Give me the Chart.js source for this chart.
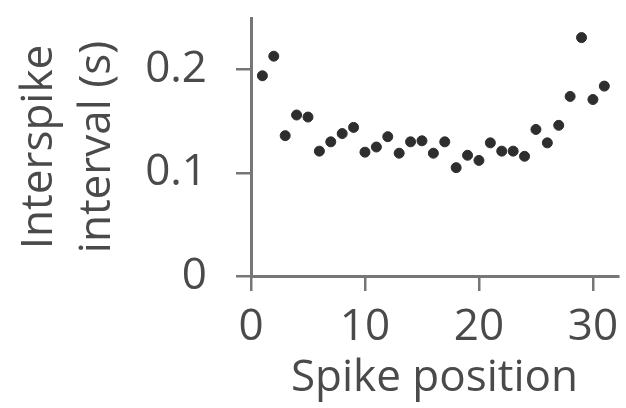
<!DOCTYPE html>
<html>
<head>
<meta charset="utf-8">
<script src="https://cdn.jsdelivr.net/npm/chart.js@4.4.1/dist/chart.umd.min.js"></script>
<style>
  html, body { margin: 0; padding: 0; background: #fff; }
  #wrap { width: 626px; height: 408px; }
  #isiChart { filter: blur(0.7px); }
</style>
</head>
<body>
<div id="wrap"><canvas id="isiChart" width="626" height="408"></canvas></div>
<script>
/* --------------- Data: interspike interval per spike --------------- */
var spikePos = [1, 2, 3, 4, 5, 6, 7, 8, 9, 10, 11, 12, 13, 14, 15, 16,
  17, 18, 19, 20, 21, 22, 23, 24, 25, 26, 27, 28, 29, 30, 31];
var isiValues = [0.194, 0.213, 0.136, 0.156, 0.154, 0.121, 0.130, 0.138,
  0.144, 0.120, 0.125, 0.135, 0.119, 0.130, 0.131, 0.119, 0.130, 0.105,
  0.117, 0.112, 0.129, 0.121, 0.121, 0.116, 0.142, 0.129, 0.146, 0.174,
  0.231, 0.171, 0.184];

/* --------------- Ticks --------------- */
var xTicks = [0, 10, 20, 30];
var yTicks = [0, 0.05, 0.1, 0.15, 0.2, 0.25];
var yTickLabels = [0, 0.1, 0.2];

var axisGrey = "#767676";
var textGrey = "#4a4a4a";
var fontFam = "'Open Sans', 'Noto Sans', sans-serif";

var points = [];
for (let i = 0; i < spikePos.length; i++) {
  points.push({ x: spikePos[i], y: isiValues[i] });
}

let isiChart = new Chart(document.getElementById("isiChart"), {
  type: "scatter",
  data: {
    datasets: [
      {
        data: points,
        backgroundColor: "#2e2e2e",
        borderColor: "#2e2e2e",
        pointRadius: 5,
        pointHoverRadius: 5,
      },
    ],
  },
  options: {
    responsive: false,
    animation: false,
    layout: { padding: { top: 18, right: 8, left: 0, bottom: 0 } },
    plugins: {
      legend: { display: false },
      tooltip: { enabled: false },
    },
    scales: {
      x: {
        type: "linear",
        min: 0,
        max: 32.2,
        afterFit: (scale) => {
          scale.height = 132;
          scale.paddingLeft = 0;
          scale.paddingRight = 0;
        },
        afterBuildTicks: (scale) => {
          scale.ticks = xTicks.map((v) => ({ value: v }));
        },
        border: { display: true, color: axisGrey, width: 3 },
        grid: {
          drawOnChartArea: false,
          drawTicks: true,
          tickLength: 15,
          tickColor: axisGrey,
          lineWidth: 2.5,
        },
        ticks: {
          padding: 10,
          color: textGrey,
          font: { family: fontFam, size: 44 },
          callback: (v) => String(v),
        },
        title: {
          display: true,
          text: "Spike position",
          color: textGrey,
          font: { family: fontFam, size: 44, lineHeight: 1.2 },
          padding: { top: 0, bottom: 3 },
        },
      },
      y: {
        type: "linear",
        min: 0,
        max: 0.25,
        afterFit: (scale) => {
          scale.width = 251;
          // labels sit inside the fixed margins, no extra room needed
          scale.paddingTop = 0;
          scale.paddingBottom = 0;
        },
        afterBuildTicks: (scale) => {
          scale.ticks = yTicks.map((v) => ({ value: v }));
        },
        border: { display: true, color: axisGrey, width: 3 },
        grid: {
          drawOnChartArea: false,
          drawTicks: true,
          tickLength: 15,
          tickColor: axisGrey,
          lineWidth: 2.5,
        },
        ticks: {
          padding: 29,
          color: textGrey,
          font: { family: fontFam, size: 44 },
          callback: (v) => {
            for (let t of yTickLabels) {
              if (Math.abs(t - v) < 1e-6) return String(t);
            }
            return "";
          },
        },
        title: {
          display: true,
          text: ["Interspike", "interval (s)"],
          color: textGrey,
          font: { family: fontFam, size: 44, lineHeight: 1.32 },
          padding: { top: 10, bottom: 0 },
        },
      },
    },
  },
});
</script>
</body>
</html>
